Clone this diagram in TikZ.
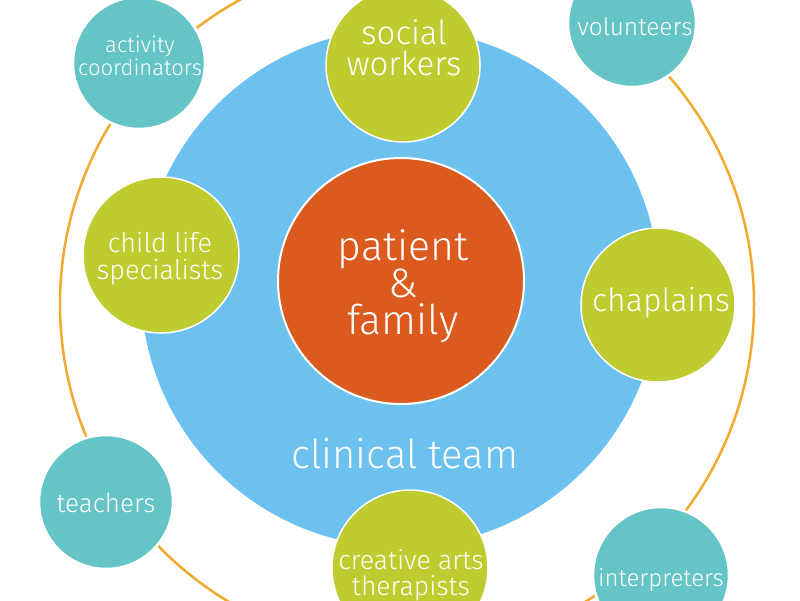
\documentclass[tikz,border=0pt]{standalone}
\usepackage{fontspec}
\setmainfont{Fira Sans Light}
\definecolor{cblue}{HTML}{6CC1EE}
\definecolor{corange}{HTML}{DB5A1D}
\definecolor{cgreen}{HTML}{BECC2F}
\definecolor{cteal}{HTML}{65C4C6}
\definecolor{cring}{HTML}{F0AA2E}
\begin{document}
\begin{tikzpicture}[x=1pt,y=-1pt,
  disc/.style={circle, inner sep=0pt, outer sep=0pt},
  greendisc/.style={disc, fill=cgreen, draw=white, line width=1.5pt},
  tealdisc/.style={disc, fill=cteal, draw=white, line width=2.5pt},
  lbl/.style={text=white, align=center, inner sep=0pt},
  fs/.style 2 args={font=\fontsize{#1}{#2}\selectfont}]
\useasboundingbox (0,0) rectangle (800,600);
\clip (0,0) rectangle (800,600);
\fill[white] (0,0) rectangle (800,600);
% outer ring
\node[disc, draw=cring, line width=2.5pt, minimum size=694pt] (ring) at (407,304) {};
% clinical team
\node[disc, fill=cblue, minimum size=518pt] (team) at (400,288) {};
\node[lbl, fs={40}{40}] (teamt) at (405,454) {clinical team};
% patient & family
\node[disc, fill=corange, draw=white, line width=2pt, minimum size=246pt] (pf) at (401,281) {};
\node[lbl, fs={41}{37}] (pft) at (403,286) {patient\\\&\\family};
% green discs
\node[greendisc, minimum size=154pt] (sw) at (403,65) {};
\node[lbl, fs={33}{31}] (swt) at (404,48) {social\\workers};
\node[greendisc, minimum size=156pt] (cl) at (161,255) {};
\node[lbl, fs={27}{27}] (clt) at (160,259) {child life\\specialists};
\node[greendisc, minimum size=154pt] (ch) at (658,305) {};
\node[lbl, fs={32}{32}] (cht) at (661,303) {chaplains};
\node[greendisc, minimum size=156pt] (ca) at (410,568) {};
\node[lbl, fs={26.5}{26}] (cat) at (411,575) {creative arts\\therapists};
% teal discs
\node[tealdisc, minimum size=132pt] (ac) at (139,63) {};
\node[lbl, fs={22}{23}] (act) at (140,56) {activity\\coordinators};
\node[tealdisc, minimum size=128pt] (vo) at (632,23) {};
\node[lbl, fs={24.5}{24}] (vot) at (635,27) {volunteers};
\node[tealdisc, minimum size=134pt] (te) at (106,502) {};
\node[lbl, fs={26}{26}] (tet) at (106,503) {teachers};
\node[tealdisc, minimum size=136pt] (in) at (661,575) {};
\node[lbl, fs={24}{24}] (int) at (661,580) {interpreters};
\end{tikzpicture}
\end{document}
